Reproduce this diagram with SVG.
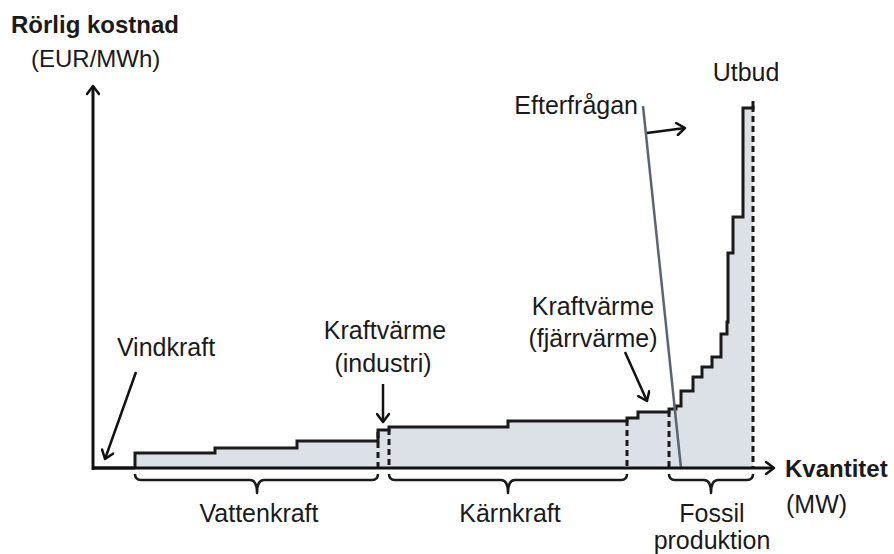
<svg xmlns="http://www.w3.org/2000/svg" width="894" height="554" viewBox="0 0 894 554">
<defs>
<marker id="arr" markerWidth="14" markerHeight="14" refX="10" refY="7" orient="auto" markerUnits="userSpaceOnUse">
<path d="M2,1 L10,7 L2,13" fill="none" stroke="#111" stroke-width="2.5" stroke-linecap="round" stroke-linejoin="round"/>
</marker>
<style>
text{font-family:"Liberation Sans","DejaVu Sans",sans-serif;font-size:25px;fill:#1a1a1a}
.b{font-weight:bold;font-size:24px}
.s{font-size:24px}
.m{text-anchor:middle}
.e{text-anchor:end}
.ln{fill:none;stroke:#1a1a1a;stroke-width:3}
.dash{fill:none;stroke:#1a1a1a;stroke-width:3;stroke-dasharray:6,4}
.brace{fill:none;stroke:#1a1a1a;stroke-width:2.5;stroke-linejoin:round}
.ptr{fill:none;stroke:#111;stroke-width:2.5;marker-end:url(#arr)}
</style>
</defs>
<rect width="894" height="554" fill="#fff"/>
<g id="supply">
<path d="M135,468 V453 H215 V448 H297 V441 H378 V430 H389 V427 H508 V421 H627 V418 H638 V412 H669 V409 H676 V406 H681 V391 H693 V377 H702 V367 H712 V357 H721 V334 H727 V322 H728 V253 H733 V217 H743 V108 H753 V103 V468 Z" fill="#dce1e7" stroke="none"/>
<path class="ln" d="M135,468 V453 H215 V448 H297 V441 H378 V430 H389 V427 H508 V421 H627 V418 H638 V412 H669 V409 H676 V406 H681 V391 H693 V377 H702 V367 H712 V357 H721 V334 H727 V322 H728 V253 H733 V217 H743 V108 H753 V101"/>
</g>
<g id="dividers">
<path class="dash" d="M378,432 V468 M389,429 V468 M627,420 V468 M669,411 V468 M753,106 V468"/>
</g>
<g id="demand">
<line x1="643" y1="106" x2="681" y2="468" stroke="#5b6570" stroke-width="2.5"/>
</g>
<g id="axes">
<path class="ln" d="M93,468 H135" stroke-width="5"/>
<line x1="93" y1="470" x2="93" y2="86" class="ptr" style="stroke-width:3"/>
<line x1="93" y1="468" x2="774" y2="468" class="ptr" style="stroke-width:3"/>
</g>
<g id="connectors">
<line class="ptr" x1="136" y1="372" x2="105" y2="459"/>
<line class="ptr" x1="383" y1="384" x2="383" y2="422"/>
<line class="ptr" x1="625" y1="352" x2="647" y2="401"/>
<line class="ptr" x1="647" y1="133" x2="685" y2="128"/>
</g>
<g id="braces">
<path class="brace" d="M135,474 Q135,480 141,480 H250 Q257,480 257,493 Q257,480 264,480 H372 Q378,480 378,474"/>
<path class="brace" d="M389,474 Q389,480 395,480 H501 Q508,480 508,493 Q508,480 515,480 H621 Q627,480 627,474"/>
<path class="brace" d="M669,474 Q669,480 675,480 H704 Q711,480 711,493 Q711,480 718,480 H747 Q753,480 753,474"/>
</g>
<g id="labels">
<text class="b" x="11" y="33">Rörlig kostnad</text>
<text class="s" x="31" y="67">(EUR/MWh)</text>
<text class="m" x="746" y="81">Utbud</text>
<text class="e" x="638" y="114">Efterfrågan</text>
<text class="m" x="166" y="356">Vindkraft</text>
<text class="m" x="385" y="339">Kraftvärme</text>
<text class="m" x="383" y="372">(industri)</text>
<text class="m" x="593" y="315">Kraftvärme</text>
<text class="m" x="593" y="347">(fjärrvärme)</text>
<text class="b" x="785" y="477">Kvantitet</text>
<text x="786" y="513">(MW)</text>
<text class="m" x="259" y="522">Vattenkraft</text>
<text class="m" x="510" y="522">Kärnkraft</text>
<text class="m" x="712" y="522">Fossil</text>
<text class="m" x="712" y="549">produktion</text>
</g>
</svg>
